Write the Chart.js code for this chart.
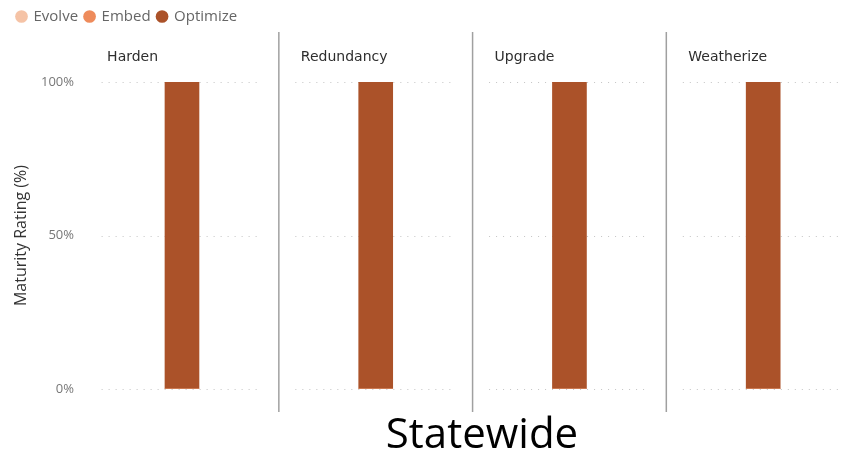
<!DOCTYPE html>
<html>
<head>
<meta charset="utf-8">
<script src="https://cdn.jsdelivr.net/npm/chart.js@4.4.1/dist/chart.umd.min.js"></script>
<style>
  html, body { margin: 0; padding: 0; background: #fff; overflow: hidden; }
  #wrap { position: relative; width: 851px; height: 454px; }
</style>
</head>
<body>
<div id="wrap"><canvas id="chart" width="851" height="454"></canvas></div>
<script>
// Small-multiples: one stacked 0–100% bar per strategy category
const categories = ['Harden', 'Redundancy', 'Upgrade', 'Weatherize'];
const evolve   = [0, 0, 0, 0];
const embed    = [0, 0, 0, 0];
const optimize = [1, 1, 1, 1];
const yTicks   = [0, 0.5, 1];
const groupLabel = 'Statewide';

const colors = { evolve: '#F5C3A6', embed: '#EE8B5B', optimize: '#AB5229' };
const UI_FONT = "'Segoe UI', 'Open Sans', 'Noto Sans', sans-serif";

const toPoints = arr => arr.map((v, i) => ({ x: i, y: v }));

// Panel decorations: dotted gridline segments, separators, panel titles, group label
const panelPlugin = {
  id: 'panels',
  beforeLayout(chart) {
    // leave room between the legend row and the panel titles
    const lg = chart.legend;
    if (lg && !lg._extraRoom) {
      const fit = lg.fit.bind(lg);
      lg.fit = function () { fit(); this.height = 82; };
      lg._extraRoom = true;
    }
  },
  beforeDraw(chart) {
    if (chart.legend) {
      chart.legend.left = 10;
      chart.legend.top = 2;
    }
  },
  beforeDatasetsDraw(chart) {
    const { ctx, scales: { x, y } } = chart;
    const half = (x.getPixelForValue(1) - x.getPixelForValue(0)) / 2;
    const gap = 16.5;
    ctx.save();
    ctx.strokeStyle = '#C4C4C4';
    ctx.lineWidth = 1;
    ctx.setLineDash([1, 6]);
    categories.forEach((c, i) => {
      const cx = x.getPixelForValue(i);
      yTicks.forEach(t => {
        const py = Math.round(y.getPixelForValue(t)) + 0.5;
        ctx.beginPath();
        ctx.moveTo(cx - half + gap, py);
        ctx.lineTo(cx + half - gap, py);
        ctx.stroke();
      });
    });
    ctx.restore();
  },
  afterDraw(chart) {
    const { ctx, scales: { x } } = chart;
    const half = (x.getPixelForValue(1) - x.getPixelForValue(0)) / 2;
    ctx.save();
    // vertical separators between panels
    ctx.strokeStyle = '#A0A0A0';
    ctx.lineWidth = 1.5;
    for (let i = 0; i < categories.length - 1; i++) {
      const px = x.getPixelForValue(i + 0.5);
      ctx.beginPath();
      ctx.moveTo(px, 32);
      ctx.lineTo(px, 412);
      ctx.stroke();
    }
    // panel titles
    ctx.fillStyle = '#2E2E2E';
    ctx.font = "14px 'DejaVu Sans', Roboto, sans-serif";
    ctx.textAlign = 'left';
    ctx.textBaseline = 'middle';
    categories.forEach((c, i) => {
      ctx.fillText(c, x.getPixelForValue(i) - half + 22, 57);
    });
    // group label under the panels
    ctx.fillStyle = '#000000';
    ctx.font = "42px " + UI_FONT;
    ctx.textAlign = 'center';
    ctx.fillText(groupLabel, 482, 436);
    ctx.restore();
  }
};

new Chart(document.getElementById('chart'), {
  type: 'bar',
  data: {
    datasets: [
      { label: 'Evolve',   data: toPoints(evolve),   backgroundColor: colors.evolve },
      { label: 'Embed',    data: toPoints(embed),    backgroundColor: colors.embed },
      { label: 'Optimize', data: toPoints(optimize), backgroundColor: colors.optimize }
    ]
  },
  options: {
    responsive: false,
    animation: false,
    layout: { padding: { top: 0, right: 8, bottom: 65, left: 0 } },
    datasets: { bar: { barThickness: 34 } },
    scales: {
      x: {
        type: 'linear',
        stacked: true,
        offset: false,
        bounds: 'data',
        min: -0.418,
        max: 3.412,
        grid: { offset: false },
        display: false
      },
      y: {
        stacked: true,
        min: 0,
        max: 1,
        afterFit: s => { s.width = 101; },
        afterBuildTicks: s => { s.ticks = yTicks.map(v => ({ value: v })); },
        grid: { display: false, drawTicks: false },
        border: { display: false },
        ticks: {
          padding: 27,
          color: '#777777',
          font: { family: UI_FONT, size: 13 },
          callback: v => Math.round(v * 100) + '%'
        },
        title: {
          display: true,
          text: 'Maturity Rating (%)',
          color: '#333333',
          font: { family: UI_FONT, size: 16 },
          padding: { top: 12, bottom: 0 }
        }
      }
    },
    plugins: {
      legend: {
        display: true,
        position: 'top',
        align: 'start',
        labels: {
          usePointStyle: true,
          pointStyle: 'circle',
          boxWidth: 9,
          boxHeight: 9,
          padding: 7,
          color: '#666666',
          font: { family: UI_FONT, size: 15 }
        }
      },
      tooltip: { enabled: false }
    }
  },
  plugins: [panelPlugin]
});
</script>
</body>
</html>
